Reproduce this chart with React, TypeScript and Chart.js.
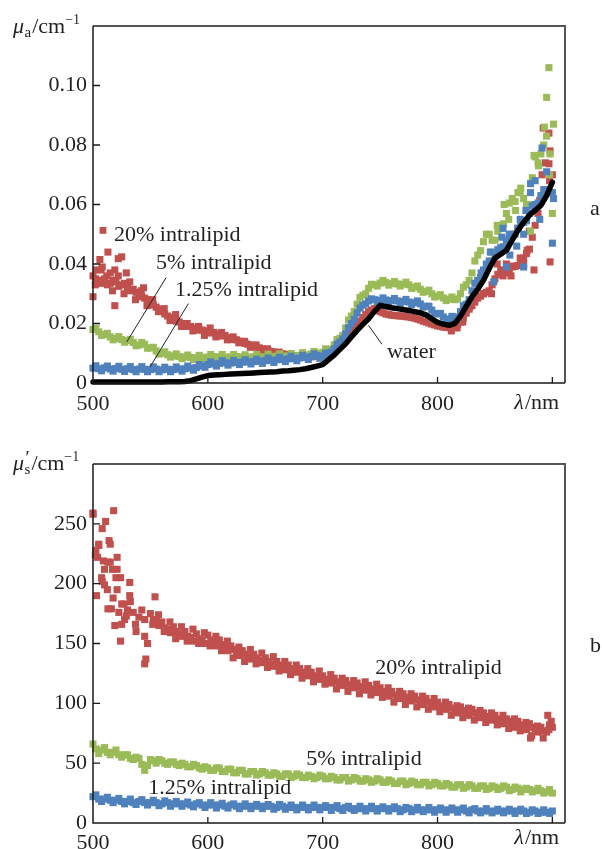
import React, { useEffect, useRef } from "react";
import { Chart, registerables } from "chart.js";

Chart.register(...registerables);

// ---------------- data ----------------
const WAVELENGTH_NM = [
  500, 505, 510, 515, 520, 525, 530, 535, 540, 545,
  550, 555, 560, 565, 570, 575, 580, 585, 590, 595,
  600, 605, 610, 615, 620, 625, 630, 635, 640, 645,
  650, 655, 660, 665, 670, 675, 680, 685, 690, 695,
  700, 705, 710, 715, 720, 725, 730, 735, 740, 745,
  750, 755, 760, 765, 770, 775, 780, 785, 790, 795,
  800, 805, 810, 815, 820, 825, 830, 835, 840, 845,
  850, 855, 860, 865, 870, 875, 880, 885, 890, 895,
  900,
];
// second row of samples, between the ones above
const WAVELENGTH_MID_NM = [
  502.5, 507.5, 512.5, 517.5, 522.5, 527.5, 532.5, 537.5, 542.5, 547.5,
  552.5, 557.5, 562.5, 567.5, 572.5, 577.5, 582.5, 587.5, 592.5, 597.5,
  602.5, 607.5, 612.5, 617.5, 622.5, 627.5, 632.5, 637.5, 642.5, 647.5,
  652.5, 657.5, 662.5, 667.5, 672.5, 677.5, 682.5, 687.5, 692.5, 697.5,
  702.5, 707.5, 712.5, 717.5, 722.5, 727.5, 732.5, 737.5, 742.5, 747.5,
  752.5, 757.5, 762.5, 767.5, 772.5, 777.5, 782.5, 787.5, 792.5, 797.5,
  802.5, 807.5, 812.5, 817.5, 822.5, 827.5, 832.5, 837.5, 842.5, 847.5,
  852.5, 857.5, 862.5, 867.5, 872.5, 877.5, 882.5, 887.5, 892.5, 897.5,
];
const X_TICKS = [500, 600, 700, 800, 900];

// panel a: absorption coefficient, cm^-1
const MUA_WATER = [
  0.0003, 0.0003, 0.0003, 0.0003, 0.0003, 0.0003, 0.0003, 0.0003, 0.0003, 0.0003,
  0.0003, 0.0003, 0.0003, 0.0004, 0.0004, 0.0004, 0.0005, 0.0008, 0.0014, 0.002,
  0.0025, 0.0027, 0.0028, 0.0029, 0.003, 0.0031, 0.0032, 0.0033, 0.0034, 0.0035,
  0.0036, 0.0037, 0.0038, 0.004, 0.0041, 0.0043, 0.0045, 0.0048, 0.0052, 0.0057,
  0.0062, 0.0078, 0.0094, 0.0113, 0.0132, 0.0155, 0.0177, 0.0197, 0.0216, 0.024,
  0.0261, 0.0257, 0.0253, 0.025, 0.0247, 0.0244, 0.024, 0.0236, 0.0229, 0.0216,
  0.0204, 0.0198, 0.0194, 0.02, 0.0225, 0.0258, 0.029, 0.0315, 0.0345, 0.0385,
  0.042, 0.0433, 0.0446, 0.048, 0.0513, 0.054, 0.0564, 0.058, 0.0597, 0.063,
  0.0675,
];
const MUA_125 = [
  0.005, 0.0048, 0.0051, 0.0047, 0.0049, 0.0046, 0.0048, 0.0045, 0.0047, 0.0046,
  0.0045, 0.0047, 0.0044, 0.0046, 0.0045, 0.0047, 0.0048, 0.005, 0.0052, 0.0057,
  0.0062, 0.0064, 0.0066, 0.0068, 0.0067, 0.0069, 0.007, 0.0071, 0.0072, 0.0073,
  0.0075, 0.0076, 0.0078, 0.0079, 0.0081, 0.0082, 0.0084, 0.0086, 0.0089, 0.0092,
  0.009, 0.01, 0.0115, 0.0138, 0.0165, 0.02, 0.0235, 0.0262, 0.0276, 0.028,
  0.0278, 0.0279, 0.0277, 0.0276, 0.0274, 0.0272, 0.027, 0.0266, 0.0258, 0.0245,
  0.0232, 0.0222, 0.0215, 0.022, 0.024, 0.0265, 0.031, 0.0345, 0.038, 0.041,
  0.0425, 0.0455, 0.048, 0.05, 0.052, 0.054, 0.057, 0.06, 0.063, 0.065,
  0.064,
];
const MUA_125_MID = [
  0.0058, 0.0041, 0.0057, 0.004, 0.0056, 0.0039, 0.0055, 0.0038, 0.0055, 0.0038,
  0.0054, 0.0038, 0.0053, 0.0038, 0.0054, 0.004, 0.0057, 0.0043, 0.0062, 0.0053,
  0.0071, 0.0057, 0.0075, 0.006, 0.0076, 0.0062, 0.0078, 0.0064, 0.008, 0.0066,
  0.0084, 0.0069, 0.0087, 0.0072, 0.009, 0.0075, 0.0093, 0.0079, 0.0098, 0.0083,
  0.01, 0.0104, 0.013, 0.0148, 0.0186, 0.0214, 0.0252, 0.0266, 0.0283, 0.0274,
  0.0286, 0.0271, 0.0284, 0.0268, 0.0281, 0.0264, 0.0276, 0.0255, 0.0258, 0.0234,
  0.0234, 0.0212, 0.0224, 0.0222, 0.026, 0.028, 0.0335, 0.0355, 0.04, 0.041,
  0.0448, 0.0458, 0.05, 0.05, 0.054, 0.0545, 0.0595, 0.0605, 0.065, 0.064,
];
const MUA_125_EXTRA: [number, number][] = [
  [838, 0.037], [846, 0.044], [849, 0.034], [856, 0.049], [857, 0.052], [860, 0.039],
  [863, 0.043], [869, 0.046], [872, 0.055], [875, 0.05], [875, 0.039], [877, 0.058],
  [881, 0.067], [881, 0.064], [885, 0.068], [889, 0.055], [891, 0.079], [895, 0.071],
  [900, 0.047], [901, 0.062],
];
const MUA_5 = [
  0.018, 0.0172, 0.0163, 0.0155, 0.015, 0.0146, 0.0142, 0.0136, 0.0128, 0.013,
  0.0118, 0.0108, 0.01, 0.0095, 0.0091, 0.0089, 0.0087, 0.0086, 0.0085, 0.0086,
  0.0087, 0.0089, 0.0088, 0.0087, 0.0088, 0.0089, 0.0088, 0.0087, 0.0088, 0.0088,
  0.0088, 0.0089, 0.009, 0.009, 0.0091, 0.0092, 0.0093, 0.0095, 0.0097, 0.01,
  0.0103, 0.0112, 0.0128, 0.015, 0.0185, 0.0225, 0.0265, 0.0295, 0.0318, 0.033,
  0.0336, 0.0338, 0.0334, 0.0333, 0.0332, 0.033, 0.0322, 0.0315, 0.0308, 0.03,
  0.0292, 0.0286, 0.0282, 0.028, 0.03, 0.033, 0.037, 0.043, 0.0475, 0.05,
  0.048, 0.052, 0.057, 0.062, 0.064, 0.062, 0.06, 0.076, 0.077, 0.083,
  0.057,
];
const MUA_5_MID = [
  0.0184, 0.016, 0.0167, 0.0145, 0.0156, 0.0137, 0.0147, 0.0125, 0.0136, 0.0117,
  0.012, 0.0097, 0.0105, 0.0087, 0.0098, 0.0082, 0.0094, 0.0079, 0.0093, 0.008,
  0.0096, 0.0081, 0.0096, 0.008, 0.0096, 0.0081, 0.0095, 0.008, 0.0096, 0.0081,
  0.0097, 0.0082, 0.0098, 0.0083, 0.0099, 0.0085, 0.0102, 0.0088, 0.0106, 0.0094,
  0.0115, 0.0113, 0.0146, 0.016, 0.0212, 0.024, 0.0288, 0.03, 0.0332, 0.0326,
  0.0345, 0.0329, 0.0341, 0.0326, 0.0339, 0.0318, 0.0326, 0.0305, 0.0312, 0.0289,
  0.0297, 0.0277, 0.0289, 0.0283, 0.0322, 0.0345, 0.041, 0.0445, 0.05, 0.048,
  0.051, 0.0535, 0.0605, 0.061, 0.0655, 0.06, 0.069, 0.074, 0.08, 0.07,
];
const MUA_5_EXTRA: [number, number][] = [
  [847, 0.044], [852, 0.053], [858, 0.06], [862, 0.055], [868, 0.058], [872, 0.064],
  [881, 0.051], [884, 0.0765], [888, 0.073], [893, 0.086], [895, 0.096], [897, 0.106],
  [898, 0.077], [901, 0.087],
];
const MUA_20 = [
  0.036, 0.0345, 0.035, 0.0335, 0.034, 0.033, 0.032, 0.0315, 0.03, 0.0285,
  0.027, 0.0255, 0.024, 0.0225, 0.0215, 0.0205, 0.0195, 0.019, 0.018, 0.0178,
  0.0175, 0.017, 0.0165, 0.016, 0.015, 0.0145, 0.014, 0.013, 0.0125, 0.0118,
  0.0112, 0.0106, 0.0102, 0.0098, 0.0095, 0.0092, 0.009, 0.0088, 0.0088, 0.009,
  0.0092, 0.0098, 0.011, 0.013, 0.015, 0.017, 0.0195, 0.022, 0.024, 0.025,
  0.024, 0.0232, 0.0228, 0.0226, 0.0225, 0.0222, 0.0218, 0.0212, 0.0205, 0.0198,
  0.0192, 0.0188, 0.0186, 0.0188, 0.0205, 0.0235, 0.026, 0.0285, 0.03, 0.031,
  0.035, 0.038, 0.037, 0.039, 0.0395, 0.042, 0.045, 0.053, 0.061, 0.065,
  0.07,
];
const MUA_20_MID = [
  0.035, 0.0335, 0.033, 0.0345, 0.0325, 0.0335, 0.031, 0.0305, 0.029, 0.028,
  0.0262, 0.0248, 0.0232, 0.022, 0.0208, 0.02, 0.019, 0.0185, 0.0178, 0.0172,
  0.0168, 0.0165, 0.0158, 0.0152, 0.0146, 0.014, 0.0133, 0.0127, 0.012, 0.0115,
  0.0108, 0.0104, 0.01, 0.0096, 0.0093, 0.0091, 0.0089, 0.0088, 0.0089, 0.0091,
  0.0095, 0.0104, 0.012, 0.014, 0.016, 0.0182, 0.0208, 0.023, 0.0245, 0.0245,
  0.0236, 0.023, 0.0227, 0.0225, 0.0223, 0.022, 0.0215, 0.0208, 0.0202, 0.0195,
  0.019, 0.0187, 0.0187, 0.0196, 0.022, 0.0248, 0.0272, 0.0292, 0.0305, 0.033,
  0.0365, 0.0375, 0.038, 0.0392, 0.041, 0.0435, 0.049, 0.057, 0.063, 0.068,
];
const MUA_20_EXTRA: [number, number][] = [
  [500, 0.029], [503, 0.038], [506, 0.0415], [508, 0.039], [513, 0.044], [515, 0.037],
  [519, 0.026], [519, 0.038], [522, 0.0418], [525, 0.0424], [529, 0.037], [544, 0.032],
  [502, 0.033], [507, 0.038], [512, 0.036], [517, 0.031], [522, 0.036], [527, 0.03],
  [532, 0.034], [537, 0.028], [542, 0.031], [547, 0.026], [552, 0.028], [557, 0.024],
  [562, 0.025], [567, 0.021], [572, 0.023], [577, 0.019], [582, 0.02], [587, 0.0175],
  [592, 0.019], [597, 0.016], [602, 0.0185], [607, 0.0155], [612, 0.017], [617, 0.0145],
  [622, 0.0155], [627, 0.0135], [632, 0.014], [637, 0.012], [642, 0.0128], [647, 0.0108],
  [652, 0.0115], [657, 0.01], [662, 0.0104], [667, 0.0093], [672, 0.0097],
  [812, 0.0175], [817, 0.0185], [822, 0.0205], [828, 0.0255], [840, 0.03], [847, 0.03],
  [852, 0.04], [857, 0.036], [860, 0.04], [864, 0.036], [866, 0.0393], [870, 0.052],
  [872, 0.042], [875, 0.04], [878, 0.0446], [880, 0.051], [884, 0.038], [889, 0.0614],
  [891, 0.07], [892, 0.0857], [894, 0.074], [897, 0.0737], [897, 0.084], [898, 0.078],
  [898, 0.0407],
];

// panel b: reduced scattering coefficient, cm^-1
const MUS_125 = [
  22, 20, 20, 19, 19, 18, 18, 17, 18, 17,
  17, 17, 16, 17, 16, 16, 16, 15, 16, 15,
  15, 15, 15, 14, 15, 14, 14, 14, 14, 14,
  14, 14, 13, 14, 13, 13, 13, 13, 13, 13,
  13, 13, 13, 12, 13, 12, 12, 12, 12, 12,
  12, 12, 12, 12, 11, 12, 11, 11, 11, 11,
  11, 11, 11, 11, 11, 10, 11, 10, 10, 10,
  10, 10, 10, 10, 10, 10, 9, 10, 9, 9,
  10,
];
const MUS_125_MID = [
  23.5, 18, 21.5, 17, 20.5, 16, 20, 15.5, 19.5, 15,
  19, 14.5, 18.5, 14, 18, 14, 17.5, 13.5, 17, 13,
  17, 12.5, 16.5, 12.5, 16, 12, 16, 12, 15.5, 12,
  15.5, 11.5, 15.5, 11.5, 15, 11, 15, 11, 15, 11,
  14.5, 10.5, 14.5, 10.5, 14, 10.5, 14, 10, 14, 10,
  13.5, 10, 13.5, 9.5, 13, 9.5, 13, 9.5, 13, 9,
  12.5, 9, 12.5, 9, 12.5, 8.5, 12, 8.5, 12, 8.5,
  11.5, 8.5, 11.5, 8, 11.5, 8, 11, 8, 11, 8,
];
const MUS_5 = [
  66, 58, 63, 57, 61, 55, 57, 53, 54, 44,
  53, 50, 52, 49, 51, 48, 49, 47, 48, 45,
  46, 44, 46, 43, 45, 42, 44, 41, 43, 41,
  42, 40, 41, 39, 41, 39, 40, 38, 39, 38,
  39, 37, 38, 36, 38, 36, 37, 35, 36, 35,
  36, 34, 35, 33, 35, 33, 34, 32, 34, 32,
  33, 31, 32, 30, 32, 30, 31, 29, 31, 29,
  30, 29, 30, 28, 29, 28, 28, 27, 27, 26,
  25,
];
const MUS_5_MID = [
  62, 61, 59, 59, 57, 57, 54, 55, 49, 48,
  52, 53, 50, 51, 49, 50, 47, 49, 46, 47,
  44, 46, 43, 45, 42, 44, 41, 43, 40, 43,
  40, 42, 39, 41, 38, 41, 38, 40, 37, 40,
  37, 39, 36, 38, 35, 38, 35, 37, 34, 37,
  34, 36, 33, 35, 32, 35, 32, 34, 31, 34,
  31, 33, 30, 32, 29, 32, 29, 31, 28, 31,
  28, 31, 27, 30, 26, 29, 26, 29, 25, 28,
];
const MUS_20 = [
  258, 232, 212, 218, 205, 183, 178, 176, 172, 170,
  175, 169, 168, 162, 164, 158, 160, 155, 158, 153,
  157, 152, 153, 147, 148, 142, 144, 139, 141, 136,
  138, 133, 135, 130, 132, 128, 129, 125, 126, 122,
  123, 119, 121, 117, 119, 115, 117, 113, 115, 111,
  113, 108, 110, 106, 108, 104, 106, 102, 104, 100,
  101, 97, 99, 95, 97, 93, 95, 91, 92, 88,
  90, 86, 87, 83, 85, 81, 83, 79, 80, 76,
  80,
];
const MUS_20_MID = [
  228, 205, 195, 188, 176, 170, 185, 160, 178, 150,
  170, 165, 163, 159, 160, 156, 156, 152, 154, 150,
  153, 148, 149, 144, 145, 140, 141, 137, 138, 134,
  135, 131, 132, 128, 129, 126, 126, 123, 123, 120,
  120, 117, 118, 115, 116, 113, 114, 111, 112, 109,
  110, 106, 107, 104, 105, 102, 103, 99, 101, 97,
  98, 95, 96, 92, 94, 90, 92, 88, 89, 86,
  87, 83, 85, 80, 82, 78, 80, 76, 77, 82,
];
const MUS_20_EXTRA: [number, number][] = [
  [500, 259], [502, 224], [503, 190], [504, 222], [505, 233], [508, 246], [508, 202],
  [509, 219], [510, 199], [511, 252], [513, 218], [513, 179], [514, 236], [515, 233],
  [516, 179], [517, 212], [518, 261], [519, 165], [521, 222], [521, 212], [521, 195],
  [524, 205], [524, 152], [525, 166], [527, 183], [529, 173], [532, 201], [532, 190],
  [537, 166], [545, 156], [545, 133], [546, 137], [554, 189],
  [552, 166], [557, 174], [562, 160], [567, 168], [572, 154], [577, 164], [582, 152],
  [587, 162], [592, 150], [597, 159], [602, 148], [607, 156], [612, 144], [617, 152],
  [622, 138], [627, 147], [632, 135], [637, 145], [642, 133], [647, 142], [652, 130],
  [657, 139], [662, 127], [667, 135], [672, 124], [677, 132], [682, 121], [687, 129],
  [692, 118], [697, 127], [702, 116], [707, 124], [712, 112], [717, 121], [722, 110],
  [727, 119], [732, 108], [737, 118], [742, 107], [747, 116], [752, 105], [757, 113],
  [762, 101], [767, 110], [772, 99], [777, 108], [782, 97], [787, 106], [792, 95],
  [797, 104], [802, 93], [807, 101], [812, 90], [817, 98], [822, 88], [827, 96],
  [832, 86], [837, 94], [842, 84], [847, 92], [852, 82], [857, 90], [862, 79],
  [867, 87], [872, 77], [877, 84], [882, 73], [887, 81], [892, 71], [897, 78],
  [896, 90], [899, 85], [881, 71],
];

// ---------------- styles ----------------
const SERIF = '"Liberation Serif", "Times New Roman", serif';
const TEXT = "#231f20";
const RED = "#C0504D";
const GREEN = "#9BBB59";
const BLUE = "#4F81BD";

type Pt = { x: number; y: number };
function toPoints(xs: number[], ys: number[]): Pt[] {
  return xs.map((x, i) => ({ x, y: ys[i] }));
}
function pairs(list: [number, number][]): Pt[] {
  return list.map(([x, y]) => ({ x, y }));
}

function scatterSet(label: string, data: Pt[], color: string) {
  return {
    label,
    data,
    showLine: false,
    pointStyle: "rect",
    pointRadius: 5,
    pointHoverRadius: 5,
    pointBorderWidth: 0,
    pointBackgroundColor: color,
    backgroundColor: color,
    borderColor: color,
    borderWidth: 0,
    clip: 10,
  };
}

type Label = { text: string; nm: number; v: number };
type Leader = { a: [number, number]; b: [number, number] };
interface PanelSpec {
  height: number;
  padTop: number;
  xAxisHeight: number;
  xLabelPad: number;
  yMax: number;
  yStep: number;
  yFormat: (v: number) => string;
  datasets: any[];
  titleSub: string;
  titlePrime: boolean;
  titleBaseline: number;
  lambdaBaseline: number;
  letter: string;
  letterBaseline: number;
  labels: Label[];
  leaders: Leader[];
  marker?: { nm: number; v: number; color: string };
}

function drawTitle(ctx: CanvasRenderingContext2D, spec: PanelSpec) {
  const b = spec.titleBaseline;
  let x = 13;
  ctx.font = `italic 22px ${SERIF}`;
  ctx.fillText("μ", x, b);
  x += ctx.measureText("μ").width + 0.5;
  let w = 0;
  if (spec.titlePrime) {
    ctx.font = `19px ${SERIF}`;
    ctx.fillText("′", x + 1, b - 6);
    w = ctx.measureText("′").width + 1;
  }
  ctx.font = `15px ${SERIF}`;
  ctx.fillText(spec.titleSub, x, b + 4);
  w = Math.max(w, ctx.measureText(spec.titleSub).width);
  x += w + 1;
  ctx.font = `22px ${SERIF}`;
  ctx.fillText("/cm", x, b);
  x += ctx.measureText("/cm").width;
  ctx.font = `14px ${SERIF}`;
  ctx.fillText("−1", x, b - 9);
}

function decorPlugin(spec: PanelSpec) {
  return {
    id: "decor",
    afterDraw(chart: any) {
      const { ctx, chartArea: a, scales } = chart;
      const xs = scales.x;
      const ys = scales.y;
      ctx.save();
      // frame
      ctx.lineWidth = 2;
      ctx.strokeStyle = "#555";
      ctx.beginPath();
      ctx.moveTo(a.left, a.top);
      ctx.lineTo(a.right, a.top);
      ctx.lineTo(a.right, a.bottom);
      ctx.stroke();
      ctx.lineWidth = 1.5;
      ctx.strokeStyle = "#1a1a1a";
      ctx.beginPath();
      ctx.moveTo(a.left, a.top);
      ctx.lineTo(a.left, a.bottom);
      ctx.lineTo(a.right, a.bottom);
      ctx.stroke();
      // inward tick marks
      ctx.lineWidth = 1.3;
      ctx.beginPath();
      ys.ticks.forEach((t: any) => {
        const y = ys.getPixelForValue(t.value);
        if (y < a.top + 2 || y > a.bottom - 2) return;
        ctx.moveTo(a.left, y);
        ctx.lineTo(a.left + 7, y);
      });
      xs.ticks.forEach((t: any) => {
        const x = xs.getPixelForValue(t.value);
        if (x < a.left + 2) return;
        ctx.moveTo(x, a.bottom);
        ctx.lineTo(x, a.bottom - 6);
      });
      ctx.stroke();

      ctx.fillStyle = TEXT;
      ctx.textAlign = "left";
      ctx.textBaseline = "alphabetic";
      drawTitle(ctx, spec);

      // lambda / nm in place of the last tick label
      const lx = xs.getPixelForValue(900) - 38;
      ctx.font = `italic 22px ${SERIF}`;
      ctx.fillText("λ", lx, spec.lambdaBaseline);
      const lw = ctx.measureText("λ").width;
      ctx.font = `22px ${SERIF}`;
      ctx.fillText("/nm", lx + lw + 1, spec.lambdaBaseline);

      // panel letter
      ctx.font = `22px ${SERIF}`;
      ctx.fillText(spec.letter, a.right + 25, spec.letterBaseline);

      // annotations
      spec.labels.forEach((l) => {
        ctx.fillText(l.text, xs.getPixelForValue(l.nm), ys.getPixelForValue(l.v));
      });
      ctx.strokeStyle = "#222";
      ctx.lineWidth = 1;
      ctx.beginPath();
      spec.leaders.forEach((ld) => {
        ctx.moveTo(xs.getPixelForValue(ld.a[0]), ys.getPixelForValue(ld.a[1]));
        ctx.lineTo(xs.getPixelForValue(ld.b[0]), ys.getPixelForValue(ld.b[1]));
      });
      ctx.stroke();
      if (spec.marker) {
        const mx = xs.getPixelForValue(spec.marker.nm);
        const my = ys.getPixelForValue(spec.marker.v);
        ctx.fillStyle = spec.marker.color;
        ctx.fillRect(mx - 3.4, my - 3.4, 6.8, 6.8);
      }
      ctx.restore();
    },
  };
}

const panelA: PanelSpec = {
  height: 425,
  padTop: 26,
  xAxisHeight: 42,
  xLabelPad: 8.5,
  yMax: 0.12,
  yStep: 0.02,
  yFormat: (v) => (Math.abs(v) < 1e-9 ? "0" : v.toFixed(2)),
  datasets: [
    {
      label: "water",
      data: toPoints(WAVELENGTH_NM, MUA_WATER),
      showLine: true,
      borderColor: "#000",
      backgroundColor: "#000",
      borderWidth: 5.5,
      borderJoinStyle: "round",
      borderCapStyle: "round",
      pointRadius: 0,
      pointHoverRadius: 0,
      tension: 0,
      clip: 10,
    },
    scatterSet(
      "1.25% intralipid",
      toPoints(WAVELENGTH_NM, MUA_125)
        .concat(toPoints(WAVELENGTH_MID_NM, MUA_125_MID))
        .concat(pairs(MUA_125_EXTRA)),
      BLUE
    ),
    scatterSet(
      "5% intralipid",
      toPoints(WAVELENGTH_NM, MUA_5)
        .concat(toPoints(WAVELENGTH_MID_NM, MUA_5_MID))
        .concat(pairs(MUA_5_EXTRA)),
      GREEN
    ),
    scatterSet(
      "20% intralipid",
      toPoints(WAVELENGTH_NM, MUA_20)
        .concat(toPoints(WAVELENGTH_MID_NM, MUA_20_MID))
        .concat(pairs(MUA_20_EXTRA)),
      RED
    ),
  ],
  titleSub: "a",
  titlePrime: false,
  titleBaseline: 33,
  lambdaBaseline: 409,
  letter: "a",
  letterBaseline: 215,
  labels: [
    { text: "20% intralipid", nm: 518.3, v: 0.0478 },
    { text: "5% intralipid", nm: 554.9, v: 0.0382 },
    { text: "1.25% intralipid", nm: 571.5, v: 0.0293 },
    { text: "water", nm: 755.9, v: 0.0085 },
  ],
  leaders: [
    { a: [563.6, 0.0354], b: [529.4, 0.0138] },
    { a: [583.1, 0.0267], b: [549.7, 0.0054] },
    { a: [739.9, 0.0194], b: [751.6, 0.013] },
  ],
  marker: { nm: 508.7, v: 0.0513, color: RED },
};

const panelB: PanelSpec = {
  height: 424,
  padTop: 39,
  xAxisHeight: 26,
  xLabelPad: 6.8,
  yMax: 300,
  yStep: 50,
  yFormat: (v) => String(Math.round(v)),
  datasets: [
    scatterSet(
      "1.25% intralipid",
      toPoints(WAVELENGTH_NM, MUS_125).concat(toPoints(WAVELENGTH_MID_NM, MUS_125_MID)),
      BLUE
    ),
    scatterSet(
      "5% intralipid",
      toPoints(WAVELENGTH_NM, MUS_5).concat(toPoints(WAVELENGTH_MID_NM, MUS_5_MID)),
      GREEN
    ),
    scatterSet(
      "20% intralipid",
      toPoints(WAVELENGTH_NM, MUS_20)
        .concat(toPoints(WAVELENGTH_MID_NM, MUS_20_MID))
        .concat(pairs(MUS_20_EXTRA)),
      RED
    ),
  ],
  titleSub: "s",
  titlePrime: true,
  titleBaseline: 45,
  lambdaBaseline: 419,
  letter: "b",
  letterBaseline: 227,
  labels: [
    { text: "20% intralipid", nm: 745.8, v: 124.2 },
    { text: "5% intralipid", nm: 685.6, v: 48.2 },
    { text: "1.25% intralipid", nm: 548.2, v: 24.0 },
  ],
  leaders: [],
};

function Panel({ spec }: { spec: PanelSpec }) {
  const ref = useRef<HTMLCanvasElement | null>(null);
  useEffect(() => {
    if (!ref.current) return;
    const chart = new Chart(ref.current, {
      type: "scatter",
      data: { datasets: spec.datasets },
      options: {
        animation: false,
        responsive: false,
        maintainAspectRatio: false,
        devicePixelRatio: 1,
        events: [],
        layout: { padding: { left: 0, right: 37, top: spec.padTop, bottom: 0 } },
        plugins: {
          legend: { display: false },
          tooltip: { enabled: false },
          title: { display: false },
        },
        scales: {
          x: {
            type: "linear",
            min: 500,
            max: 911,
            afterBuildTicks: (s: any) => {
              s.ticks = X_TICKS.map((v) => ({ value: v }));
            },
            afterFit: (s: any) => {
              s.height = spec.xAxisHeight;
            },
            grid: { display: false, drawTicks: false },
            border: { display: false },
            ticks: {
              autoSkip: false,
              maxRotation: 0,
              padding: spec.xLabelPad,
              color: TEXT,
              font: { family: SERIF, size: 22 },
              callback: (v: any) => (Number(v) === 900 ? "" : String(v)),
            },
          },
          y: {
            type: "linear",
            min: 0,
            max: spec.yMax,
            afterFit: (s: any) => {
              s.width = 93;
            },
            grid: { display: false, drawTicks: false },
            border: { display: false },
            ticks: {
              stepSize: spec.yStep,
              padding: 6,
              color: TEXT,
              font: { family: SERIF, size: 22 },
              callback: (v: any) =>
                Math.abs(Number(v) - spec.yMax) < 1e-9 ? "" : spec.yFormat(Number(v)),
            },
          },
        },
      } as any,
      plugins: [decorPlugin(spec)],
    });
    return () => chart.destroy();
  }, [spec]);
  return <canvas ref={ref} width={602} height={spec.height} style={{ display: "block" }} />;
}

export default function App() {
  return (
    <div
      style={{
        position: "absolute",
        left: 0,
        top: 0,
        width: 602,
        height: 849,
        background: "#fff",
        overflow: "hidden",
      }}
    >
      <Panel spec={panelA} />
      <Panel spec={panelB} />
    </div>
  );
}
